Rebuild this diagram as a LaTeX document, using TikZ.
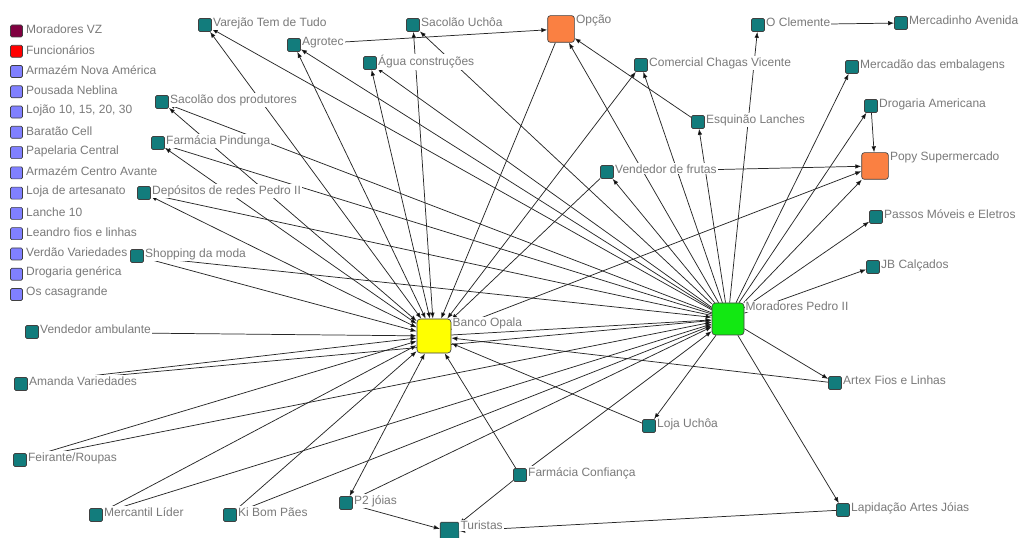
\documentclass[tikz,border=0pt]{standalone}
\usepackage{fontspec}
\setmainfont{Liberation Sans}
\usetikzlibrary{arrows.meta, backgrounds, positioning}
\definecolor{ndteal}{RGB}{18,124,124}
\definecolor{ndorange}{RGB}{250,128,66}
\definecolor{ndyellow}{RGB}{255,255,0}
\definecolor{ndgreen}{RGB}{18,232,18}
\definecolor{ndmaroon}{RGB}{128,0,64}
\definecolor{ndred}{RGB}{255,0,0}
\definecolor{ndlilac}{RGB}{128,128,255}
\definecolor{ndgrey}{RGB}{122,122,122}
\tikzset{
  ndtie/.style={-{Latex[length=4.5pt, width=3.4pt]}, line width=0.55pt, draw=black!85},
  ndmutual/.style={{Latex[length=4.5pt, width=3.4pt]}-{Latex[length=4.5pt, width=3.4pt]}},
  ndlabel/.style={anchor=north west, inner sep=0.8pt, yshift=1.5pt, fill=white, text=ndgrey, font=\fontsize{9}{10}\selectfont},
  ndkeylabel/.style={inner sep=0.8pt, label distance=1.5pt, yshift=1.2pt, text=ndgrey, font=\fontsize{9}{10}\selectfont},
  ndactor/.style={rectangle, draw=black!75, line width=0.5pt, fill=ndteal, minimum size=9.75pt, inner sep=0pt, rounded corners=1pt},
  ndbank/.style={ndactor, fill=ndyellow, minimum size=25.5pt, rounded corners=2.5pt},
  ndresident/.style={ndactor, fill=ndgreen, minimum size=24pt, rounded corners=2.5pt},
  ndmarket/.style={ndactor, fill=ndorange, minimum size=20pt, rounded corners=2pt},
  ndtourist/.style={ndactor, minimum size=14pt, rounded corners=1pt},
  ndkey/.style={rectangle, draw=black!75, line width=0.5pt, minimum size=9pt, inner sep=0pt, rounded corners=1pt},
}

\begin{document}
\begin{tikzpicture}[x=0.75pt, y=-0.75pt]
  \useasboundingbox (0,0) rectangle (1021,538);

  % Legend.
  \node[ndkey, fill=ndmaroon, label={[ndkeylabel]right:Moradores VZ}] (lgvz) at (16.5,31) {};
  \node[ndkey, fill=ndred, below=5.7pt of lgvz, label={[ndkeylabel]right:Funcionários}] (lgfunc) {};
  \node[ndkey, fill=ndlilac, below=5.7pt of lgfunc, label={[ndkeylabel]right:Armazém Nova América}] (lgnova) {};
  \node[ndkey, fill=ndlilac, below=5.7pt of lgnova, label={[ndkeylabel]right:Pousada Neblina}] (lgpousada) {};
  \node[ndkey, fill=ndlilac, below=5.7pt of lgpousada, label={[ndkeylabel]right:Lojão 10, 15, 20, 30}] (lglojao) {};
  \node[ndkey, fill=ndlilac, below=5.7pt of lglojao, label={[ndkeylabel]right:Baratão Cell}] (lgbaratao) {};
  \node[ndkey, fill=ndlilac, below=5.7pt of lgbaratao, label={[ndkeylabel]right:Papelaria Central}] (lgpapelaria) {};
  \node[ndkey, fill=ndlilac, below=5.7pt of lgpapelaria, label={[ndkeylabel]right:Armazém Centro Avante}] (lgavante) {};
  \node[ndkey, fill=ndlilac, below=5.7pt of lgavante, label={[ndkeylabel]right:Loja de artesanato}] (lgartesanato) {};
  \node[ndkey, fill=ndlilac, below=5.7pt of lgartesanato, label={[ndkeylabel]right:Lanche 10}] (lglanche) {};
  \node[ndkey, fill=ndlilac, below=5.7pt of lglanche, label={[ndkeylabel]right:Leandro fios e linhas}] (lgleandro) {};
  \node[ndkey, fill=ndlilac, below=5.7pt of lgleandro, label={[ndkeylabel]right:Verdão Variedades}] (lgverdao) {};
  \node[ndkey, fill=ndlilac, below=5.7pt of lgverdao, label={[ndkeylabel]right:Drogaria genérica}] (lggenerica) {};
  \node[ndkey, fill=ndlilac, below=5.7pt of lggenerica, label={[ndkeylabel]right:Os casagrande}] (lgcasagrande) {};

  % Hubs.
  \node[ndbank, label={[ndlabel]north east:Banco Opala}] (banco) at (434,336) {};
  \node[ndresident, label={[ndlabel]north east:Moradores Pedro II}] (moradores) at (728,319) {};
  \node[ndmarket, label={[ndlabel]north east:Opção}] (opcao) at (561,29) {};
  \node[ndmarket, label={[ndlabel]north east:Popy Supermercado}] (popy) at (875,166) {};
  \node[ndtourist, label={[ndlabel]north east:Turistas}] (turistas) at (449.5,531.5) {};

  % Upper actors.
  \node[ndactor, label={[ndlabel]north east:Varejão Tem de Tudo}] (varejao) at (205,25) {};
  \node[ndactor, label={[ndlabel]north east:Sacolão Uchôa}] (sacolaouchoa) at (413,25) {};
  \node[ndactor, label={[ndlabel]north east:O Clemente}] (clemente) at (758,25) {};
  \node[ndactor, label={[ndlabel]north east:Mercadinho Avenida}] (mercadinho) at (901,23) {};
  \node[ndactor, label={[ndlabel]north east:Agrotec}] (agrotec) at (294,45) {};
  \node[ndactor, label={[ndlabel]north east:Água construções}] (agua) at (370,63) {};
  \node[ndactor, label={[ndlabel]north east:Comercial Chagas Vicente}] (chagas) at (641,65) {};
  \node[ndactor, label={[ndlabel]north east:Mercadão das embalagens}] (mercadao) at (852,67) {};
  \node[ndactor, label={[ndlabel]north east:Sacolão dos produtores}] (sacolaoprod) at (162,102) {};
  \node[ndactor, label={[ndlabel]north east:Drogaria Americana}] (drogaria) at (871,106) {};
  \node[ndactor, label={[ndlabel]north east:Esquinão Lanches}] (esquinao) at (698,122) {};
  \node[ndactor, label={[ndlabel]north east:Farmácia Pindunga}] (pindunga) at (158,143) {};
  \node[ndactor, label={[ndlabel]north east:Vendedor de frutas}] (frutas) at (607,172) {};
  \node[ndactor, label={[ndlabel]north east:Depósitos de redes Pedro II}] (depositos) at (144,193) {};
  \node[ndactor, label={[ndlabel]north east:Passos Móveis e Eletros}] (passos) at (876,217) {};
  \node[ndactor, label={[ndlabel]north east:Shopping da moda}] (shopping) at (137,256) {};
  \node[ndactor, label={[ndlabel]north east:JB Calçados}] (jb) at (873,267) {};

  % Lower actors.
  \node[ndactor, label={[ndlabel]north east:Vendedor ambulante}] (ambulante) at (32,332) {};
  \node[ndactor, label={[ndlabel]north east:Amanda Variedades}] (amanda) at (21,384) {};
  \node[ndactor, label={[ndlabel]north east:Artex Fios e Linhas}] (artex) at (835,383) {};
  \node[ndactor, label={[ndlabel]north east:Loja Uchôa}] (lojauchoa) at (649,426) {};
  \node[ndactor, label={[ndlabel]north east:Feirante/Roupas}] (feirante) at (20,460) {};
  \node[ndactor, label={[ndlabel]north east:Farmácia Confiança}] (confianca) at (520,475) {};
  \node[ndactor, label={[ndlabel]north east:Mercantil Líder}] (mercantil) at (96,515) {};
  \node[ndactor, label={[ndlabel]north east:Ki Bom Pães}] (kibom) at (230,515) {};
  \node[ndactor, label={[ndlabel]north east:P2 jóias}] (ptwo) at (346,503) {};
  \node[ndactor, label={[ndlabel]north east:Lapidação Artes Jóias}] (lapidacao) at (843,510) {};

  % Ties.
  \begin{scope}[on background layer]
    \fill[white] (0,0) rectangle (1021,538);
    \path[ndtie]
      (moradores) edge (varejao)
      (moradores) edge (agrotec)
      (moradores) edge (agua)
      (moradores) edge (sacolaouchoa)
      (moradores) edge (opcao)
      (moradores) edge (chagas)
      (moradores) edge (clemente)
      (moradores) edge (esquinao)
      (moradores) edge (frutas)
      (moradores) edge (mercadao)
      (moradores) edge (drogaria)
      (moradores) edge (popy)
      (moradores) edge (passos)
      (moradores) edge (jb)
      (moradores) edge (artex)
      (moradores) edge (lapidacao)
      (moradores) edge (lojauchoa)
      (moradores) edge (sacolaoprod)
      (moradores) edge (pindunga)
      (moradores) edge (depositos)
      (shopping) edge (moradores)
      (amanda) edge (moradores)
      (feirante) edge (moradores)
      (mercantil) edge (moradores)
      (kibom) edge (moradores)
      (ptwo) edge (moradores)
      (confianca) edge (moradores)
      (banco) edge (moradores);
    \path[ndtie]
      (banco) edge[ndmutual] (varejao)
      (banco) edge[ndmutual] (agrotec)
      (banco) edge[ndmutual] (agua)
      (banco) edge[ndmutual] (sacolaouchoa)
      (banco) edge[ndmutual] (chagas)
      (banco) edge[ndmutual] (sacolaoprod)
      (banco) edge[ndmutual] (pindunga)
      (banco) edge[ndmutual] (depositos)
      (banco) edge[ndmutual] (ptwo)
      (opcao) edge (banco)
      (frutas) edge (banco)
      (shopping) edge (banco)
      (ambulante) edge (banco)
      (amanda) edge (banco)
      (feirante) edge (banco)
      (mercantil) edge (banco)
      (kibom) edge (banco)
      (confianca) edge (banco)
      (lojauchoa) edge (banco)
      (artex) edge (banco)
      (banco) edge (popy);
    \path[ndtie]
      (agrotec) edge (opcao)
      (esquinao) edge (opcao)
      (clemente) edge (mercadinho)
      (drogaria) edge (popy)
      (frutas) edge (popy)
      (ptwo) edge (turistas)
      (confianca) edge (turistas)
      (lapidacao) edge (turistas);
  \end{scope}
\end{tikzpicture}
\end{document}
